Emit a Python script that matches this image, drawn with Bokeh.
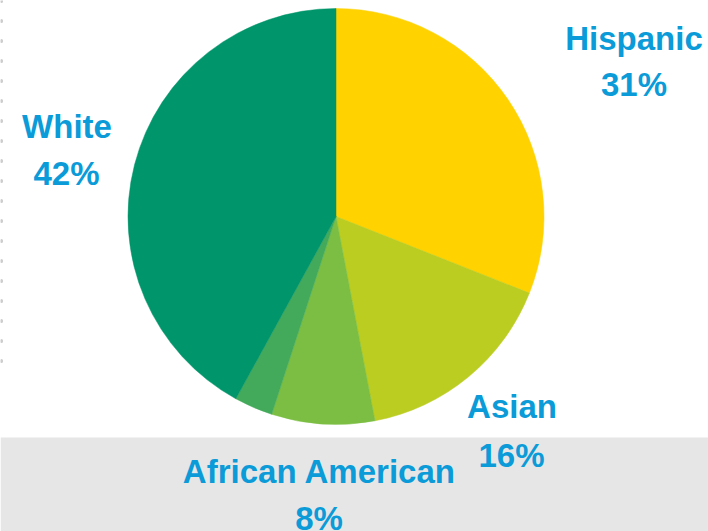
import math
from bokeh.plotting import figure
from bokeh.models import Range1d
from bokeh.core.properties import value
from bokeh.embed import file_html
from bokeh.resources import INLINE

categories = ["Hispanic", "Asian", "African American", "Other", "White"]
shares = [31, 16, 8, 3, 42]
slice_colors = ["#FFD200", "#BBCD21", "#7BBE43", "#44AA5B", "#00956A"]
show_label = [True, True, True, False, True]

W, H = 708, 531
p = figure(width=W, height=H, output_backend="svg", toolbar_location=None,
           x_range=Range1d(0, W), y_range=Range1d(0, H), min_border=0)
p.axis.visible = False
p.grid.visible = False
p.outline_line_color = None
p.background_fill_color = "white"
p.border_fill_color = "white"

def sy(y):
    # reference pixel row -> data y
    return H - y

# grey band at the bottom
p.quad(left=0, right=W, bottom=0, top=sy(437), fill_color="#E6E6E6", line_color=None)

# dotted line on the left edge
p.line(x=[1, 1], y=[sy(0), sy(365)], line_color="#CDCDCD", line_width=3,
       line_dash="1 19", line_cap="round")

# pie
cx, cy, r = 335.5, sy(216), 208
total = sum(shares)
starts, ends = [], []
c = 0.0
for v in shares:
    starts.append(math.pi / 2 - 2 * math.pi * c / total)
    c += v
    ends.append(math.pi / 2 - 2 * math.pi * c / total)

p.wedge(x=[cx] * len(shares), y=[cy] * len(shares), radius=r,
        start_angle=starts, end_angle=ends, direction="clock",
        fill_color=slice_colors, line_color=slice_colors, line_width=0.5)

# labels: (name center x, name top y, pct center x, pct top y)
label_pos = {
    "Hispanic": (633.5, 19, 633.5, 65),
    "Asian": (511.5, 387, 511, 436),
    "African American": (319, 452, 318.5, 499),
    "White": (66.5, 107, 66, 154),
}
lx, ly, ltext = [], [], []
for cat, v, show in zip(categories, shares, show_label):
    if not show:
        continue
    ax, ay, bx, by = label_pos[cat]
    lx += [ax, bx]
    ly += [sy(ay), sy(by)]
    ltext += [cat, f"{v}%"]

p.text(x=lx, y=ly, text=ltext, text_align="center", text_baseline="top",
       text_font=value("Liberation Sans"), text_font_style="bold",
       text_font_size="33px", text_color="#0A9BD8")

open("out.html", "w").write(file_html(p, INLINE))
